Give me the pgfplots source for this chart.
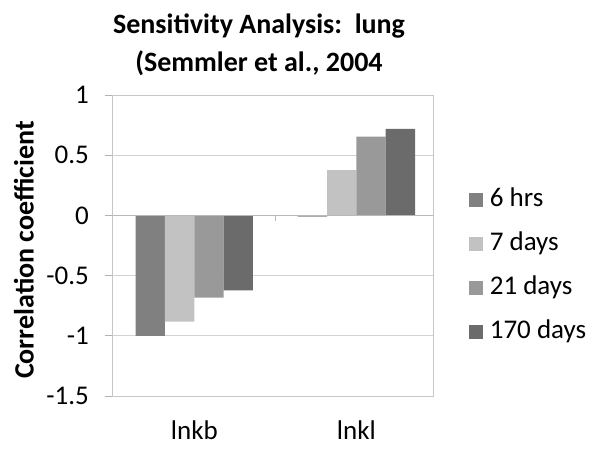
\documentclass[border=0pt]{standalone}
\usepackage{pgfplots}
\pgfplotsset{compat=1.18}
\usepackage{fontspec}
\setmainfont{Carlito}

\definecolor{csix}{gray}{0.50}
\definecolor{cseven}{gray}{0.76}
\definecolor{ctwentyone}{gray}{0.60}
\definecolor{conesevenzero}{gray}{0.42}

\begin{document}
\begin{tikzpicture}[x=1pt,y=1pt]
\useasboundingbox (0,0) rectangle (602,455);
\fontsize{27}{32}\selectfont
\begin{axis}[
    at={(112pt,59pt)}, anchor=south west,
    scale only axis,
    width=321pt, height=301pt,
    xmin=-0.508, xmax=1.473,
    ymin=-1.5, ymax=1,
    ytick={-1.5,-1,-0.5,0,0.5,1},
    yticklabels={-1.5,-1,-0.5,0,0.5,1},
    xtick={0,1},
    xticklabels={lnkb,lnkl},
    x tick label style={yshift=-9pt},
    y tick label style={xshift=-7pt},
    xtick style={draw=none},
    ytick style={draw=gray!60, line width=0.8pt},
    ytick pos=left,
    tick align=outside,
    major tick length=7pt,
    ymajorgrids=true,
    grid style={gray!35, line width=0.8pt},
    axis line style={gray!45, line width=0.8pt},
    ybar=0pt,
    bar width=0.181,
    legend style={draw=none, fill=none, at={(1.111,0.697)}, anchor=north west,
        inner sep=0pt, row sep=16pt,
        nodes={inner sep=2pt, text height=18pt, text depth=6pt},
        /tikz/every odd column/.append style={column sep=5pt},
        legend cell align=left},
    legend image code/.code={\fill[#1] (0pt,-7pt) rectangle (14pt,7pt);},
    every axis plot/.append style={draw=none},
]
\addplot[fill=csix] coordinates {(0,-1.00) (1,-0.01)};
\addlegendentry{6 hrs}
\addplot[fill=cseven] coordinates {(0,-0.883) (1,0.377)};
\addlegendentry{7 days}
\addplot[fill=ctwentyone] coordinates {(0,-0.683) (1,0.654)};
\addlegendentry{21 days}
\addplot[fill=conesevenzero] coordinates {(0,-0.622) (1,0.718)};
\addlegendentry{170 days}
\draw[gray!55, line width=0.8pt] (axis cs:-0.508,0) -- (axis cs:1.473,0);
\draw[gray!55, line width=0.8pt] (axis cs:0.5,0) -- ++(0pt,-6pt);
\end{axis}
\node[font=\fontsize{28}{38}\selectfont\bfseries, align=center] at (259,410)
    {Sensitivity Analysis:\ \ lung\\(Semmler et al., 2004};
\node[font=\fontsize{28}{32}\selectfont\bfseries, rotate=90] at (24,205)
    {Correlation coefficient};
\end{tikzpicture}
\end{document}
